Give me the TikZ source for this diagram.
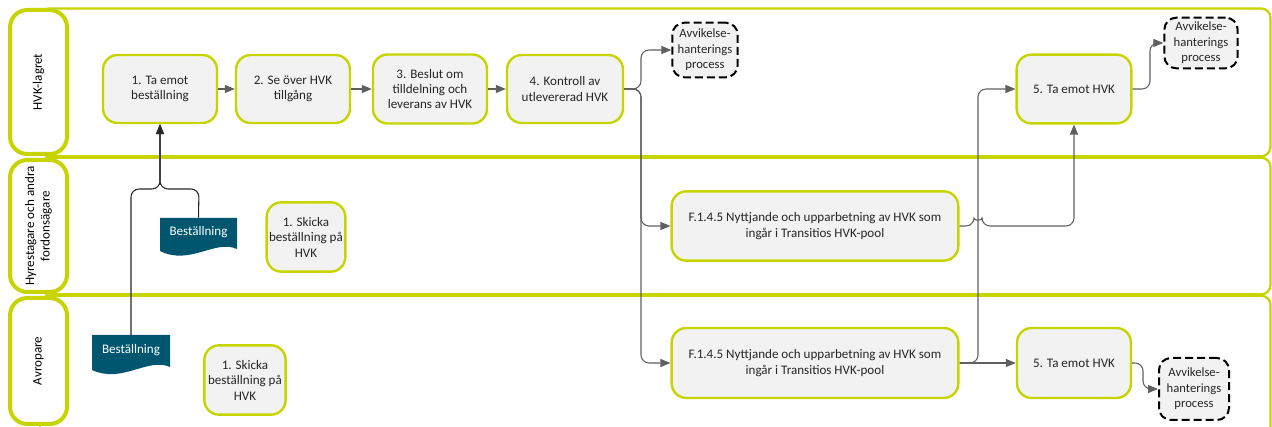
\documentclass[tikz,border=0pt]{standalone}
\usepackage{fontspec}
\setmainfont{Carlito}
\usetikzlibrary{arrows.meta}
\definecolor{lime}{RGB}{200,212,0}
\definecolor{boxfill}{RGB}{242,242,242}
\definecolor{doccol}{RGB}{0,86,110}
\definecolor{conncol}{RGB}{95,95,95}
\definecolor{txt}{RGB}{38,38,38}
\newcommand\fs{\fontsize{9.8}{11.6}\selectfont}
\newcommand\fsd{\fontsize{9.5}{11.6}\selectfont}
\tikzset{
  lanebox/.style={draw=lime, line width=1.7pt, rounded corners=7pt},
  lanelabel/.style={draw=lime, line width=3pt, fill=white, rounded corners=13pt, rotate=90, align=center, font=\fs, text=black, inner sep=1pt},
  proc/.style={draw=lime, line width=1.8pt, fill=boxfill, rounded corners=11pt, align=center, font=\fs, text=txt, inner sep=1pt},
  dashbox/.style={draw=black, line width=1.5pt, dash pattern=on 6pt off 3pt, fill=boxfill, rounded corners=9pt, align=center, font=\fsd, text=txt, inner sep=0pt},
  sz/.style 2 args={minimum width=#1, minimum height=#2},
  doctext/.style={text=white, font=\fs, inner sep=0pt, minimum width=58pt, minimum height=21pt},
  conn/.style={draw=conncol, line width=0.8pt, rounded corners=6pt, -{Triangle[length=7.5pt,width=6pt]}},
  connb/.style={draw=black!85, line width=0.8pt, rounded corners=6pt, -{Triangle[length=7.5pt,width=6pt]}}
}
\begin{document}
\begin{tikzpicture}[x=0.75pt,y=-0.75pt]
\useasboundingbox (0,0) rectangle (1272,427);
% lanes
\draw[lanebox] (40,8.5) rectangle (1270.5,156.3);
\draw[lanebox] (40,157.7) rectangle (1270.5,294.3);
\draw[lanebox] (40,295.7) rectangle (1270.5,450);
% lane labels
\node[lanelabel, sz={108pt}{42.75pt}] (L1) at (38.5,82) {HVK-lagret};
\node[lanelabel, sz={99pt}{42.75pt}] (L2) at (38.5,226) {Hyrestagare och andra\\fordonsägare};
\node[lanelabel, sz={94.5pt}{42.75pt}] (L3) at (38.5,361) {Avropare};
% lane 1 nodes
\node[proc, sz={85.5pt}{51pt}] (n1) at (160,89) {1. Ta emot\\beställning};
\node[proc, sz={85.5pt}{51pt}] (n2) at (293,89) {2. Se över HVK\\tillgång};
\node[proc, sz={85.5pt}{51.75pt}] (n3) at (430,89) {3. Beslut om\\tilldelning och\\leverans av HVK};
\node[proc, sz={87pt}{51pt}] (n4) at (565,89) {4. Kontroll av\\utlevererad HVK};
\node[dashbox, sz={49pt}{41pt}] (av1) at (705,50) {Avvikelse-\\hanterings\\process};
\node[proc, sz={86pt}{51.5pt}] (n5) at (1074,89) {5. Ta emot HVK};
\node[dashbox, sz={55pt}{38pt}] (av2) at (1201,43) {Avvikelse-\\hanterings\\process};
% lane 2 nodes
\fill[doccol] (160,218) -- (237,218) -- (237,249) .. controls (215,239) and (190,266) .. (160,251) -- cycle;
\node[doctext] (doc1) at (198.5,232) {Beställning};
\node[proc, sz={59pt}{52pt}] (s1) at (306,237) {1. Skicka\\beställning på\\HVK};
\node[proc, sz={215pt}{52pt}] (F1) at (815,226) {F.1.4.5 Nyttjande och upparbetning av HVK som\\ingår i Transitios HVK-pool};
% lane 3 nodes
\fill[doccol] (92,335) -- (170,335) -- (170,367) .. controls (148,357) and (122,384) .. (92,370) -- cycle;
\node[doctext] (doc2) at (131,350) {Beställning};
\node[proc, sz={61pt}{52pt}] (s2) at (245,380) {1. Skicka\\beställning på\\HVK};
\node[proc, sz={215pt}{52.5pt}] (F2) at (815,363) {F.1.4.5 Nyttjande och upparbetning av HVK som\\ingår i Transitios HVK-pool};
\node[proc, sz={85.5pt}{52.5pt}] (n5b) at (1074,363) {5. Ta emot HVK};
\node[dashbox, sz={52.5pt}{46.5pt}] (av3) at (1194,389) {Avvikelse-\\hanterings\\process};
% connectors
\draw[conn] (n1) -- (n2);
\draw[conn] (n2) -- (n3);
\draw[conn] (n3) -- (n4);
\draw[conn] (n4.east) -- (641,89) -- (641,50) -- (av1.west);
\draw[conn] (n4.east) -- (641,89) -- (641,226) -- (F1.west);
\draw[conn] (n4.east) -- (641,89) -- (641,363) -- (F2.west);
\draw[conn] (F1.east) -- (974,226) .. controls (974,221) and (982,221) .. (982,226) -- (1074,226) -- (n5.south);
\draw[conn] (F2.east) -- (n5b.west);
\draw[conn] (F2.east) -- (978,363) -- (978,89) -- (n5.west);
\draw[conn] (n5.east) -- (1150,89) -- (1150,43) -- (av2.west);
\draw[conn] (n5b.east) -- (1143,363) -- (1143,389) -- (av3.west);
\draw[connb] (doc1.north) -- (199,189) -- (160,189) -- (n1.south);
\draw[connb] (doc2.north) -- (131,189) -- (160,189) -- (n1.south);
\end{tikzpicture}
\end{document}
